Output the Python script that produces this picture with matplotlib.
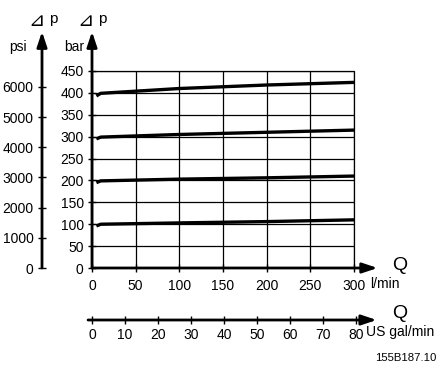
import numpy as np
import matplotlib.pyplot as plt

plt.rcParams['font.family'] = ['Liberation Sans', 'DejaVu Sans']

# curves: flow (l/min) vs pressure (bar)
q_lmin = [5, 10, 100, 200, 300]
p_400 = [393, 399, 410, 418, 424]
p_300 = [295, 299, 305, 310, 315]
p_200 = [195, 199, 203, 206, 210]
p_100 = [96, 100, 103, 106, 110]
curves = [p_100, p_200, p_300, p_400]

bar_ticks = [0, 50, 100, 150, 200, 250, 300, 350, 400, 450]
psi_ticks = [0, 1000, 2000, 3000, 4000, 5000, 6000]
lmin_ticks = [0, 50, 100, 150, 200, 250, 300]
gal_ticks = [0, 10, 20, 30, 40, 50, 60, 70, 80]

BAR2PSI = 14.5038
GAL2L = 3.78541

W, H = 438, 365
fig = plt.figure(figsize=(W / 100, H / 100), dpi=100)

def rect(x0, y0, x1, y1):
    # pixel box (top-left origin) -> figure fraction
    return [x0 / W, 1 - y1 / H, (x1 - x0) / W, (y1 - y0) / H]

x0px, x1px = 92, 354
y0px, y1px = 268, 71
ax = fig.add_axes(rect(x0px, y1px, x1px, y0px))
ax.set_xlim(0, 300)
ax.set_ylim(0, 450)
for s in ax.spines.values():
    s.set_visible(False)
ax.set_xticks(lmin_ticks)
ax.set_yticks(bar_ticks)
ax.tick_params(direction='inout', length=6, width=1, labelsize=10, pad=3)
ax.tick_params(axis='x', pad=5)
ax.grid(True, color='black', linewidth=0.9)
ax.set_axisbelow(True)
# top and right borders
ax.plot([0, 300, 300], [450, 450, 0], color='black', lw=0.9, clip_on=False)
for c in curves:
    ax.plot(q_lmin, c, color='black', lw=2.4, solid_capstyle='butt')
# axis arrows
arr = dict(arrowstyle='-|>,head_length=0.9,head_width=0.3', color='black', lw=2, shrinkA=0, shrinkB=0)
ax.annotate('', xy=(327, 0), xytext=(0, 0), arrowprops=arr, annotation_clip=False)
ax.annotate('', xy=(0, 540), xytext=(0, 0), arrowprops=arr, annotation_clip=False)

# psi axis
px = 42
axp = fig.add_axes(rect(px, y1px, px + 1, y0px))
axp.set_ylim(0, 450 * BAR2PSI)
axp.set_xlim(0, 1)
for s in axp.spines.values():
    s.set_visible(False)
axp.set_xticks([])
axp.set_yticks(psi_ticks)
axp.tick_params(direction='inout', length=6, width=1, labelsize=10, pad=3)
axp.annotate('', xy=(0, 540 * BAR2PSI), xytext=(0, 0), arrowprops=arr, annotation_clip=False)
axp.patch.set_visible(False)

# US gal/min axis
gy = 320
gmax = 88
axg = fig.add_axes(rect(x0px, gy - 1, x0px + gmax * GAL2L / 300 * (x1px - x0px), gy))
axg.set_xlim(0, gmax)
axg.set_ylim(0, 1)
for s in axg.spines.values():
    s.set_visible(False)
axg.set_yticks([])
axg.set_xticks(gal_ticks)
axg.tick_params(direction='inout', length=6, width=1, labelsize=10, pad=3)
axg.annotate('', xy=(326 / GAL2L, 0), xytext=(-1.2, 0), arrowprops=arr, annotation_clip=False)
axg.patch.set_visible(False)

# units and labels
fig.text(370 / W, 1 - 284 / H, 'l/min', fontsize=10, ha='left', va='center')
fig.text(366 / W, 1 - 332 / H, 'US gal/min', fontsize=10, ha='left', va='center')
fig.text(400 / W, 1 - 265 / H, 'Q', fontsize=14, ha='center', va='center')
fig.text(400 / W, 1 - 313 / H, 'Q', fontsize=14, ha='center', va='center')
for xp in [32, 81]:
    fig.text((xp - 4) / W, 1 - 20 / H, '⊿', fontsize=14, ha='left', va='center',
             family=['DejaVu Sans'])
    fig.text((xp + 17) / W, 1 - 19 / H, 'p', fontsize=11, ha='left', va='center')
fig.text(18 / W, 1 - 47 / H, 'psi', fontsize=10, ha='center', va='center')
fig.text(74 / W, 1 - 47 / H, 'bar', fontsize=10, ha='center', va='center')
fig.text(436 / W, 1 - 358 / H, '155B187.10', fontsize=8.2, ha='right', va='center')

fig.savefig('out.png', dpi=100)
